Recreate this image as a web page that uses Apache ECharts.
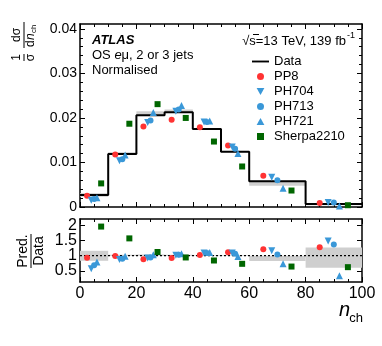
<!DOCTYPE html>
<html>
<head>
<meta charset="utf-8">
<script src="https://cdn.jsdelivr.net/npm/echarts@6/dist/echarts.min.js"></script>
<style>
  html, body { margin: 0; padding: 0; background: #fff; }
  #main { width: 382px; height: 346px; }
</style>
</head>
<body>
<div id="main"></div>
<script>
// bin edges of n_ch and the measured (normalised) distribution
const binEdges = [0, 10, 20, 30, 40, 50, 60, 80, 100];
const dataVals = [0.0027, 0.0119, 0.0206, 0.0213, 0.0175, 0.0124, 0.0058, 0.0007];
const bandLo = [0.0023, 0.0118, 0.0205, 0.0212, 0.0174, 0.0123, 0.0048, 0.00042];
const bandHi = [0.0031, 0.0123, 0.0215, 0.0219, 0.0176, 0.0125, 0.0059, 0.00089];

// predictions, upper panel
const pp8 = [0.0025, 0.0118, 0.0181, 0.0196, 0.0179, 0.0138, 0.0070, 0.0009];
const ph704 = [0.0015, 0.0104, 0.0190, 0.0215, 0.0191, 0.0135, 0.0067, 0.0010];
const ph713 = [0.0018, 0.0107, 0.0194, 0.0219, 0.0191, 0.0131, 0.0060, 0.0010];
const ph721 = [0.0021, 0.0117, 0.0212, 0.0228, 0.0193, 0.0120, 0.0042, 0.0002];
const sherpa = [0.0053, 0.0187, 0.0231, 0.0200, 0.0147, 0.0091, 0.0037, 0.0004];

// Pred./Data, lower panel
const pp8R = [0.93, 0.99, 0.88, 0.92, 1.02, 1.11, 1.21, 1.28];
const ph704R = [0.57, 0.87, 0.92, 1.01, 1.09, 1.09, 1.16, 1.48];
const ph713R = [0.68, 0.90, 0.94, 1.03, 1.09, 1.06, 1.04, 1.37];
const ph721R = [0.79, 0.98, 1.03, 1.06, 1.10, 0.97, 0.73, 0.34];
const sherpaR = [1.96, 1.57, 1.12, 0.94, 0.84, 0.73, 0.64, 0.62];
const ratioLo = [0.83, 0.99, 0.99, 0.99, 0.99, 0.99, 0.82, 0.60];
const ratioHi = [1.16, 1.03, 1.04, 1.03, 1.01, 1.01, 1.00, 1.27];

// tick labels
const xTicks = [0, 20, 40, 60, 80, 100];
const yTicksTop = [0, 0.01, 0.02, 0.03, 0.04];
const yTicksRatio = [0.5, 1, 1.5, 2];

const FONT = "'Liberation Sans', Arial, Helvetica, sans-serif";
const RED = "#ff3333", BLUE = "#3a98d8", GREEN = "#006600";

function range(a, b, step) {
  const out = [];
  for (let v = a; v <= b + 1e-9; v += step) out.push(+v.toFixed(4));
  return out;
}

// main + mirrored axes with inside ticks, plus two tick-only axes for minors.
// with label.split the labels alternate between two axes so none get hidden as overlapping
function frameAxes(dim, gi, min, max, majors, minors, label) {
  const posA = dim === "x" ? "bottom" : "left";
  const posB = dim === "x" ? "top" : "right";
  const base = {
    gridIndex: gi, type: "value", min: min, max: max,
    splitLine: { show: false },
    axisLine: { show: true, onZero: false, lineStyle: { color: "#000", width: 1.5 } }
  };
  const major = { show: true, inside: true, length: 5, customValues: majors, lineStyle: { color: "#000", width: 1 } };
  const minor = minors
    ? { show: true, inside: true, length: 3, customValues: minors, lineStyle: { color: "#000", width: 1 } }
    : { show: false };
  const mkLab = vals => Object.assign({ show: true, customValues: vals, color: "#000", fontFamily: FONT,
    hideOverlap: false, showMinLabel: true, showMaxLabel: true }, label);
  let labA = { show: false }, labC = { show: false };
  if (label && label.split) {
    labA = mkLab(majors.filter((v, i) => i % 2 === 0));
    labC = mkLab(majors.filter((v, i) => i % 2 === 1));
  } else if (label) {
    labA = mkLab(majors);
  }
  return [
    Object.assign({}, base, { position: posA, axisTick: major, axisLabel: labA }),
    Object.assign({}, base, { position: posB, axisTick: major, axisLabel: { show: false } }),
    Object.assign({}, base, { position: posA, axisLine: { show: false, onZero: false }, axisTick: minor, axisLabel: labC }),
    Object.assign({}, base, { position: posB, axisLine: { show: false, onZero: false }, axisTick: minor, axisLabel: { show: false } })
  ];
}

const xMinors = range(0, 100, 5);
const xAxes = frameAxes("x", 0, 0, 100, xTicks, xMinors, null)
  .concat(frameAxes("x", 1, 0, 100, xTicks, xMinors, { fontSize: 16, margin: 4 }));
const yAxes = frameAxes("y", 0, 0, 0.0411, yTicksTop, range(0, 0.04, 0.002),
    { fontSize: 14, margin: 3, formatter: v => (v === 0 ? "0" : v.toFixed(2)) })
  .concat(frameAxes("y", 1, 0.13, 2.21, yTicksRatio, null, { fontSize: 16, margin: 3, split: true }));

// marker x positions inside each bin
function placed(vals, frac) {
  return vals.map((v, i) => [binEdges[i] + frac * (binEdges[i + 1] - binEdges[i]), v]);
}
function stepPoints(vals) {
  const pts = vals.map((v, i) => [binEdges[i], v]);
  pts.push([binEdges[binEdges.length - 1], vals[vals.length - 1]]);
  return pts;
}
function bandData(lo, hi) {
  return lo.map((l, i) => [binEdges[i], binEdges[i + 1], l, hi[i]]);
}
function bandSeries(gi, lo, hi) {
  return {
    type: "custom", xAxisIndex: gi * 4, yAxisIndex: gi * 4, z: 1, silent: true,
    data: bandData(lo, hi),
    encode: { x: [0, 1], y: [2, 3] },
    renderItem: function (params, api) {
      const p0 = api.coord([api.value(0), api.value(3)]);
      const p1 = api.coord([api.value(1), api.value(2)]);
      return { type: "rect", shape: { x: p0[0], y: p0[1], width: p1[0] - p0[0], height: p1[1] - p0[1] },
               style: { fill: "#cfcfcf" } };
    }
  };
}

const DOWN = "path://M0,0L10,0L5,9Z";
const UP = "path://M5,0L10,9L0,9Z";
const SQUARE = "path://M0,0L10,0L10,10L0,10Z";
const markers = [
  { name: "PP8", color: RED, symbol: "circle", size: 6, frac: 0.25, top: pp8, ratio: pp8R },
  { name: "PH704", color: BLUE, symbol: DOWN, size: 7, frac: 0.4, top: ph704, ratio: ph704R },
  { name: "PH713", color: BLUE, symbol: "circle", size: 6, frac: 0.5, top: ph713, ratio: ph713R },
  { name: "PH721", color: BLUE, symbol: UP, size: 7, frac: 0.6, top: ph721, ratio: ph721R },
  { name: "Sherpa2210", color: GREEN, symbol: SQUARE, size: 6, frac: 0.75, top: sherpa, ratio: sherpaR }
];

const series = [
  bandSeries(0, bandLo, bandHi),
  {
    name: "Data", type: "line", xAxisIndex: 0, yAxisIndex: 0, z: 2,
    step: "end", symbol: "none", data: stepPoints(dataVals),
    lineStyle: { color: "#000", width: 2 }, itemStyle: { color: "#000" }
  }
];
markers.forEach(m => {
  series.push({
    name: m.name, type: "scatter", xAxisIndex: 0, yAxisIndex: 0, z: 3,
    symbol: m.symbol, symbolSize: m.size, itemStyle: { color: m.color, opacity: 1 },
    data: placed(m.top, m.frac)
  });
});
series.push(bandSeries(1, ratioLo, ratioHi));
series.push({
  type: "line", xAxisIndex: 4, yAxisIndex: 4, z: 2, symbol: "none", silent: true,
  data: [[0, 1], [100, 1]], lineStyle: { color: "#000", width: 1.2, type: [2, 2] }
});
markers.forEach(m => {
  series.push({
    type: "scatter", xAxisIndex: 4, yAxisIndex: 4, z: 3,
    symbol: m.symbol, symbolSize: m.size, itemStyle: { color: m.color, opacity: 1 },
    data: placed(m.ratio, m.frac)
  });
});

const txt = (x, y, text, font, align, va) => ({
  type: "text", x: x, y: y,
  style: { text: text, font: font, fill: "#000", align: align || "left", verticalAlign: va || "middle" }
});
const bar = (x1, y1, x2, y2) => ({
  type: "line", shape: { x1: x1, y1: y1, x2: x2, y2: y2 }, style: { stroke: "#000", lineWidth: 1 }
});

const graphic = [
  txt(92, 40, "ATLAS", "italic bold 13px " + FONT),
  {
    type: "text", x: 92, y: 55,
    style: {
      text: "{a|OS }{i|e}{a|μ, 2 or 3 jets}", verticalAlign: "middle",
      rich: { a: { font: "13px " + FONT, fill: "#000" }, i: { font: "italic 13px " + FONT, fill: "#000" } }
    }
  },
  txt(92, 70, "Normalised", "13px " + FONT),
  txt(346, 41, "√s=13 TeV, 139 fb", "13px " + FONT, "right"),
  txt(347, 36, "-1", "9px " + FONT),
  bar(253, 34.5, 259, 34.5),
  // y title, upper panel
  {
    type: "group", x: 24, y: 40, rotation: Math.PI / 2,
    children: [
      txt(-17.5, -1, "1", "12px " + FONT, "center", "bottom"),
      bar(-21, 0, -14, 0),
      txt(-17.5, 1, "σ", "12px " + FONT, "center", "top"),
      txt(5, -1, "dσ", "12px " + FONT, "center", "bottom"),
      bar(-8, 0, 18, 0),
      txt(-7, 1, "d", "12px " + FONT, "left", "top"),
      txt(0, 1, "n", "italic 12px " + FONT, "left", "top"),
      txt(7, 6, "ch", "8px " + FONT, "left", "top")
    ]
  },
  // y title, ratio panel
  {
    type: "group", x: 31, y: 251, rotation: Math.PI / 2,
    children: [
      txt(0, -1, "Pred.", "14px " + FONT, "center", "bottom"),
      bar(-17, 0, 17, 0),
      txt(0, 1, "Data", "14px " + FONT, "center", "top")
    ]
  },
  // x title
  txt(350, 320, "n", "italic 20px " + FONT, "right", "bottom"),
  txt(363, 325, "ch", "13px " + FONT, "right", "bottom")
];

const chart = echarts.init(document.getElementById("main"), null, { renderer: "canvas" });
chart.setOption({
  animation: false,
  backgroundColor: "#fff",
  textStyle: { fontFamily: FONT },
  grid: [
    { left: 80, top: 24, width: 282, height: 183 },
    { left: 80, top: 219, width: 282, height: 63 }
  ],
  xAxis: xAxes,
  yAxis: yAxes,
  legend: {
    orient: "vertical", left: 252, top: 54, padding: 0,
    itemWidth: 17, itemHeight: 7, itemGap: 0, selectedMode: false,
    textStyle: { fontSize: 13, lineHeight: 15, color: "#000", fontFamily: FONT },
    data: [
      { name: "Data", icon: "path://M0,0L20,0L20,2.2L0,2.2Z" },
      "PP8", "PH704", "PH713", "PH721", "Sherpa2210"
    ]
  },
  graphic: graphic,
  series: series
});
</script>
</body>
</html>
